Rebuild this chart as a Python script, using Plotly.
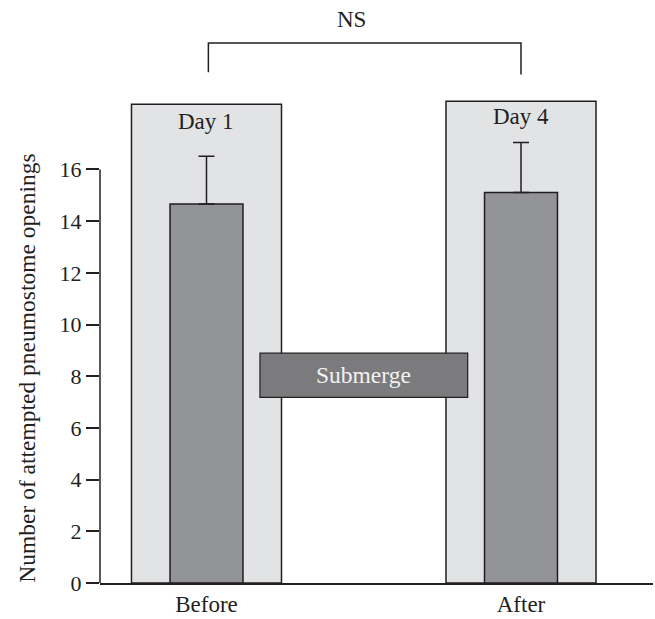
import plotly.graph_objects as go

# ---- data ----
categories = ["Before", "After"]
means = [14.66, 15.11]
errors_up = [1.85, 1.93]
day_labels = ["Day 1", "Day 4"]
panel_tops = [18.52, 18.64]
y_ticks = [0, 2, 4, 6, 8, 10, 12, 14, 16]
treatment_label = "Submerge"
treatment_range = [7.18, 8.89]
significance_label = "NS"
y_title = "Number of attempted pneumostome openings"

INK = "#231f20"
FONT = "Liberation Serif"
xpos = list(range(len(categories)))

fig = go.Figure()
fig.add_trace(go.Bar(
    x=xpos, y=means, width=0.232,
    marker=dict(color="#939497", line=dict(color=INK, width=1.5)),
    error_y=dict(type="data", symmetric=False, array=errors_up,
                 arrayminus=[0] * len(means), color=INK, thickness=1.5, width=8),
    showlegend=False, hoverinfo="skip",
))

shapes = []
# light panels behind each bar
for xp, top in zip(xpos, panel_tops):
    shapes.append(dict(type="rect", xref="x", yref="y", x0=xp - 0.2385, x1=xp + 0.2385,
                       y0=0, y1=top, fillcolor="#e2e3e5",
                       line=dict(color=INK, width=1.5), layer="below"))
# treatment box
shapes.append(dict(type="rect", xref="x", yref="y", x0=0.170, x1=0.8305,
                   y0=treatment_range[0], y1=treatment_range[1],
                   fillcolor="#7b7b7d", line=dict(color=INK, width=1.2), layer="above"))
# y axis line (0..16 only)
shapes.append(dict(type="line", xref="paper", yref="y", x0=0, x1=0, y0=0, y1=y_ticks[-1],
                   line=dict(color=INK, width=1.5)))
# significance bracket
shapes.append(dict(type="path", xref="x", yref="y",
                   path="M 0.006,19.76 L 0.006,20.89 L 1.0,20.89 L 1.0,19.67",
                   line=dict(color=INK, width=1.5)))

W, H = 655, 619
ml, mr, mt, mb = 100, 2, 5, 34
pw, ph = W - ml - mr, H - mt - mb

annotations = []
day_y = [17.87, 18.05]
for xp, lab, yy in zip(xpos, day_labels, day_y):
    annotations.append(dict(x=xp, y=yy, xref="x", yref="y", text=lab, showarrow=False,
                            font=dict(family=FONT, size=23, color=INK)))
annotations.append(dict(x=0.5, y=sum(treatment_range) / 2, xref="x", yref="y",
                        text=treatment_label, showarrow=False,
                        font=dict(family=FONT, size=23.5, color="#f2f2f2")))
annotations.append(dict(x=0.4617, y=21.79, xref="x", yref="y", text=significance_label,
                        showarrow=False, font=dict(family=FONT, size=23, color=INK)))
annotations.append(dict(x=(27 - ml) / pw, y=(H - mb - 370) / ph, xref="paper", yref="paper",
                        xanchor="center", yanchor="middle",
                        text=y_title, showarrow=False, textangle=-90,
                        font=dict(family=FONT, size=23.5, color=INK)))

fig.update_layout(
    width=W, height=H,
    margin=dict(l=ml, r=mr, t=mt, b=mb),
    plot_bgcolor="white", paper_bgcolor="white",
    font=dict(family=FONT, size=22, color=INK),
    shapes=shapes, annotations=annotations,
    xaxis=dict(range=[-0.3386, 1.4197], tickvals=xpos, ticktext=categories,
               showgrid=False, zeroline=False, showline=True, linecolor=INK, linewidth=1.5,
               ticks="", tickfont=dict(family=FONT, size=23, color=INK)),
    yaxis=dict(range=[0, 22.36], tickvals=y_ticks, showgrid=False, zeroline=False,
               showline=False, ticks="outside", ticklen=13, tickwidth=1.5, tickcolor=INK,
               tickfont=dict(family=FONT, size=22, color=INK)),
)

fig.write_html("out.html", config={"displayModeBar": False},
               post_script="document.body.style.margin='0';document.body.style.overflow='hidden';")
